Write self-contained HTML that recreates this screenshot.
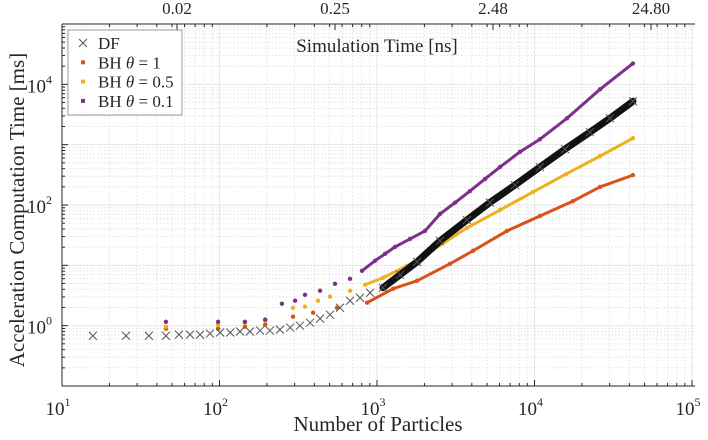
<!DOCTYPE html>
<html><head><meta charset="utf-8"><style>
body{margin:0;background:#fff;width:708px;height:435px;overflow:hidden}
svg text{font-family:"Liberation Serif",serif;fill:#262626}
</style></head><body>
<svg id="chart" width="708" height="435" viewBox="0 0 708 435" xmlns="http://www.w3.org/2000/svg"></svg>
<script>
const dfN=[15.7,25.5,35.6,45.7,55.3,65,75.2,87,101,117,135,156,181,209,242,281,324,376,435,503,582,674,780,904,1091,1400,1795,2512,3724,5215,7512,10830,15620,22490,30150,42170];
const dfMs=[0.68,0.68,0.68,0.68,0.71,0.71,0.71,0.74,0.77,0.77,0.80,0.80,0.83,0.83,0.86,0.93,1.0,1.12,1.31,1.52,1.98,2.59,2.90,3.51,4.25,6.97,11.4,25.4,56.5,110,214,425,843,1610,2740,5240];
const bh1N=[45.7,98,145,195,293,393,557,865,1264,1795,2905,4070,6683,10830,17550,26060,42170];
const bh1Ms=[0.89,0.89,0.96,1.04,1.41,1.64,1.98,2.40,4.09,5.54,10.6,17.4,37.2,65.8,116,199,313];
const bh05N=[45.7,98,145,195,293,349,422,503,674,840,1091,1550,2268,3724,6035,9776,15850,26060,42170];
const bh05Ms=[0.96,1.04,1.12,1.21,1.98,2.06,2.59,3.02,3.79,4.76,6.21,9.8,18.0,41.7,82.6,164,325,646,1280];
const bh01N=[45.7,98,145,195,249,302,349,435,541,674,803,971,1125,1301,1620,2018,2512,3126,3890,4853,6035,8087,10830,16080,26060,42170];
const bh01Ms=[1.16,1.16,1.16,1.26,2.31,2.59,3.25,3.79,4.94,5.98,8.11,11.9,15.5,20.2,27.4,37.2,71,109,170,270,425,760,1230,2740,8270,22230];
const xTickLabels=["1","2","3","4","5"];
const yTickExps=[0,2,4];
const topTickLabels=["0.02","0.25","2.48","24.80"];

const NS="http://www.w3.org/2000/svg";
const svg=document.getElementById('chart');
const L=62,R=692,T=24,B=386;
const X=n=>L+(Math.log10(n)-1)*(R-L)/4;
const Y=v=>B-(Math.log10(v)+1)*(B-T)/6;
function mk(tag,a,parent){const e=document.createElementNS(NS,tag);for(const k in a)e.setAttribute(k,a[k]);(parent||svg).appendChild(e);return e;}

const grid=mk('g',{});


for(let d=1;d<5;d++)for(let m=2;m<10;m++){const x=X(m*Math.pow(10,d));mk('line',{x1:x,x2:x,y1:T,y2:B,stroke:'#e2e2e2','stroke-dasharray':'1.5 2','stroke-width':1},grid);}
for(let d=-1;d<5;d++)for(let m=2;m<10;m++){const y=Y(m*Math.pow(10,d));mk('line',{x1:L,x2:R+3,y1:y,y2:y,stroke:'#e2e2e2','stroke-dasharray':'1.5 2','stroke-width':1},grid);}
for(let d=1;d<=5;d++){const x=X(Math.pow(10,d));mk('line',{x1:x,x2:x,y1:T,y2:B,stroke:'#e6e6e6'},grid);}
for(let d=-1;d<=5;d++){const y=Y(Math.pow(10,d));mk('line',{x1:L,x2:R+3,y1:y,y2:y,stroke:'#e6e6e6'},grid);}

const ax=mk('g',{});


mk('line',{x1:L,x2:L,y1:T,y2:B,stroke:'#262626'},ax);
mk('line',{x1:L,x2:R+3,y1:B,y2:B,stroke:'#262626'},ax);
mk('line',{x1:L,x2:R+3,y1:T,y2:T,stroke:'#262626'},ax);
for(let d=1;d<=5;d++){const x=X(Math.pow(10,d));mk('line',{x1:x,x2:x,y1:B,y2:B-6,stroke:'#262626'},ax);
 for(let m=2;m<10&&d<5;m++){const xm=X(m*Math.pow(10,d));mk('line',{x1:xm,x2:xm,y1:B,y2:B-3,stroke:'#262626'},ax);mk('line',{x1:xm,x2:xm,y1:T,y2:T+3,stroke:'#262626'},ax);}
 const t=mk('text',{x:x-4,y:415,'text-anchor':'middle','font-size':19},ax);t.textContent='10';
 const s=mk('tspan',{dy:-9,'font-size':12},t);s.textContent=xTickLabels[d-1];
 }
for(let d=-1;d<=5;d++){const y=Y(Math.pow(10,d));mk('line',{x1:L,x2:L+6,y1:y,y2:y,stroke:'#262626'},ax);
 for(let m=2;m<10&&d<5;m++){const ym=Y(m*Math.pow(10,d));mk('line',{x1:L,x2:L+3,y1:ym,y2:ym,stroke:'#262626'},ax);}}
yTickExps.forEach(e=>{const y=Y(Math.pow(10,e));const t=mk('text',{x:27,y:y+8,'font-size':19},ax);t.textContent='10';
 const s=mk('tspan',{dy:-9,'font-size':12},t);s.textContent=String(e);
 });
topTickLabels.forEach((lab,i)=>{const x=177+i*158;mk('line',{x1:x,x2:x,y1:T,y2:T+6,stroke:'#262626'},ax);
 const t=mk('text',{x:x,y:14,'text-anchor':'middle','font-size':17},ax);t.textContent=lab;
 });

function dots(Ns,Ms,color,name,lineFrom,lw){
 const g=mk('g',{});
 
 
 const pts=[];Ns.forEach((n,i)=>{if(n>=lineFrom)pts.push(X(n)+','+Y(Ms[i]));});
 if(pts.length>1)mk('polyline',{points:pts.join(' '),fill:'none',stroke:color,'stroke-width':lw,'stroke-linejoin':'round','stroke-linecap':'round'},g);
 Ns.forEach((n,i)=>{const c=mk('circle',{cx:X(n),cy:Y(Ms[i]),r:2.2,fill:color},g);});
}
dots(bh1N,bh1Ms,'#d95319','series-bh-theta-1',800,3);
dots(bh05N,bh05Ms,'#edb120','series-bh-theta-0-5',800,3);
dots(bh01N,bh01Ms,'#7e2f8e','series-bh-theta-0-1',800,3);
(function(){
 const g=mk('g',{});
 
 
 const pts=[];dfN.forEach((n,i)=>{if(n>=1000)pts.push(X(n)+','+Y(dfMs[i]));});
 mk('polyline',{points:pts.join(' '),fill:'none',stroke:'#111','stroke-width':7,'stroke-linecap':'round'},g);
 dfN.forEach((n,i)=>{const x=X(n),y=Y(dfMs[i]);
  const p=mk('path',{d:`M${x-4} ${y-4}L${x+4} ${y+4}M${x-4} ${y+4}L${x+4} ${y-4}`,stroke:'#555','stroke-width':1},g);
  });
})();

const lg=mk('g',{});


mk('rect',{x:68,y:30,width:114,height:85,fill:'#fff',stroke:'#999'},lg);
const entries=[['DF','#555','x'],['BH θ = 1','#d95319','o'],['BH θ = 0.5','#edb120','o'],['BH θ = 0.1','#7e2f8e','o']];
entries.forEach((e,i)=>{const y=43+i*19.3;
 const eg=mk('g',{},lg);
 if(e[2]==='x')mk('path',{d:`M${79} ${y-4}L${87} ${y+4}M${79} ${y+4}L${87} ${y-4}`,stroke:e[1]},eg);
 else mk('rect',{x:81,y:y-2,width:4,height:4,fill:e[1]},eg);
 const t=mk('text',{x:98,y:y+6,'font-size':17},eg);
 if(e[0].includes('θ')){const parts=e[0].split('θ');t.appendChild(document.createTextNode(parts[0]));const it=mk('tspan',{'font-style':'italic'},t);it.textContent='θ';t.appendChild(document.createTextNode(parts[1]));}
 else t.textContent=e[0];});

let t=mk('text',{x:377,y:52,'text-anchor':'middle','font-size':19});t.textContent='Simulation Time [ns]';

t=mk('text',{x:378,y:431,'text-anchor':'middle','font-size':21});t.textContent='Number of Particles';

t=mk('text',{x:0,y:0,'text-anchor':'middle','font-size':21,transform:'translate(24,210) rotate(-90)'});t.textContent='Acceleration Computation Time [ms]';

</script>
</body></html>
